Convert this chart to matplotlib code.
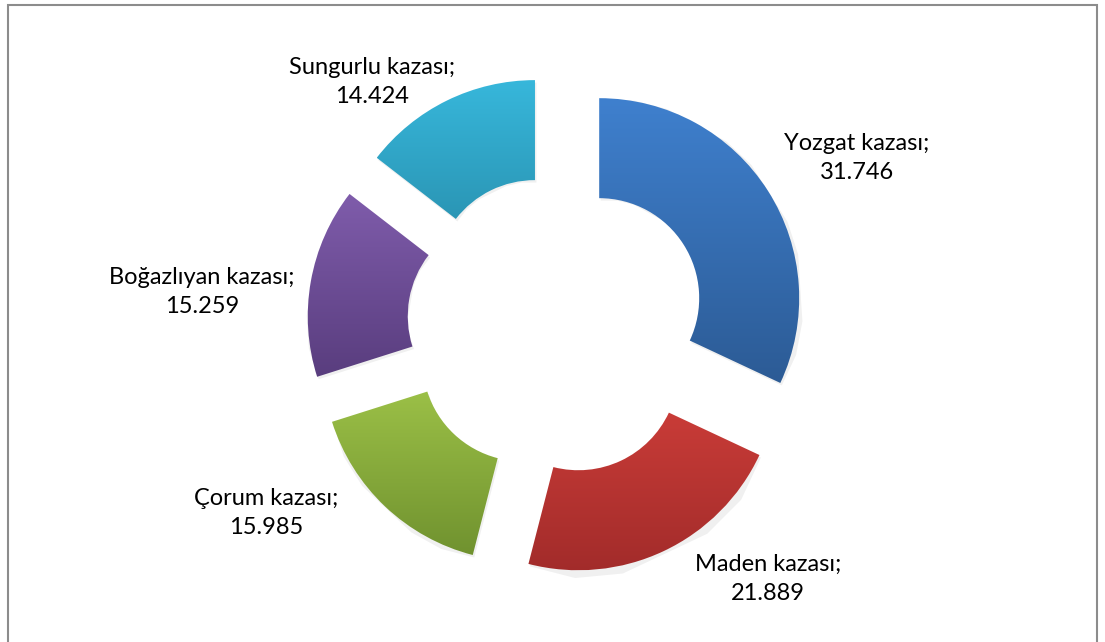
import numpy as np
import matplotlib.pyplot as plt
from matplotlib.colors import LinearSegmentedColormap
from matplotlib.patches import Rectangle

# data
labels = ['Yozgat kazası', 'Maden kazası', 'Çorum kazası', 'Boğazlıyan kazası', 'Sungurlu kazası']
values = [31.746, 21.889, 15.985, 15.259, 14.424]
value_text = ['31.746', '21.889', '15.985', '15.259', '14.424']
top_colors = ['#3F80CE', '#D3403B', '#A3C84B', '#7F5CAB', '#37B7DB']
bottom_colors = ['#2C5B95', '#A12B2A', '#70922F', '#593D7E', '#2587A4']
label_pos = [(857, 158), (768, 579), (266, 513), (202, 292), (372, 82)]

W, H = 1105, 642
fig = plt.figure(figsize=(W / 100, H / 100), dpi=100)
ax = fig.add_axes([0, 0, 1, 1])

cx, cy = 557, H - 325
R = 200
wedges, _ = ax.pie(values, startangle=90, counterclock=False, center=(cx, cy),
                   radius=R, explode=[50] * len(values),
                   wedgeprops=dict(width=100, linewidth=0))

grad = np.linspace(0, 1, 256).reshape(-1, 1)
for w, c1, c2 in zip(wedges, top_colors, bottom_colors):
    w.set_facecolor('none')
    # soft shadow
    sh = plt.Polygon(w.get_path().vertices + [1.5, -2.5], closed=True,
                     facecolor='black', alpha=0.06, edgecolor='none', zorder=1)
    ax.add_patch(sh)
    verts = w.get_path().vertices
    x0, x1 = verts[:, 0].min(), verts[:, 0].max()
    y0, y1 = verts[:, 1].min(), verts[:, 1].max()
    cmap = LinearSegmentedColormap.from_list('g', [c2, c1])
    im = ax.imshow(grad, cmap=cmap, extent=[x0, x1, y0, y1], origin='lower',
                   aspect='auto', zorder=2, interpolation='bilinear')
    im.set_clip_path(w)

for lab, val, (x, y) in zip(labels, value_text, label_pos):
    ax.text(x, H - y, lab + ';\n' + val, ha='center', va='center',
            fontsize=17, family='Lato', color='black', linespacing=1.5)

# chart frame
ax.add_patch(Rectangle((8, -20), 1089, H - 5 + 20, fill=False,
                       edgecolor='#8C8C8C', linewidth=1.5, zorder=5))

ax.set_xlim(0, W)
ax.set_ylim(0, H)
ax.set_aspect('auto')
ax.axis('off')

fig.savefig('out.png', dpi=100)
